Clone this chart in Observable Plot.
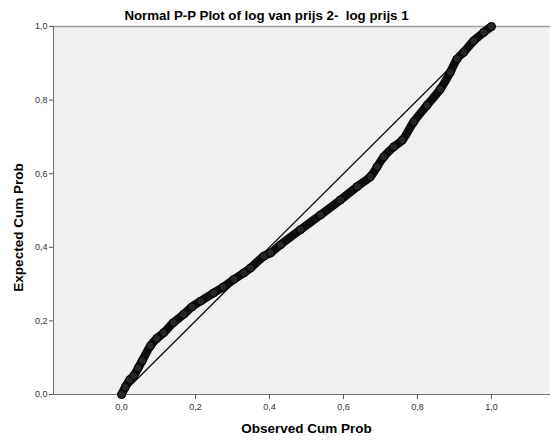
<!DOCTYPE html>
<html>
<head>
<meta charset="utf-8">
<script src="https://cdn.jsdelivr.net/npm/d3@7"></script>
<script src="https://cdn.jsdelivr.net/npm/@observablehq/plot@0.6"></script>
<style>
  html, body { margin: 0; padding: 0; background: #fff; }
  #chart svg { display: block; }
</style>
</head>
<body>
<div id="chart"></div>
<script>
const title = "Normal P-P Plot of log van prijs 2-  log prijs 1";
const xLabel = "Observed Cum Prob";
const yLabel = "Expected Cum Prob";
const tickValues = [0, 0.2, 0.4, 0.6, 0.8, 1.0];

const observed = [0.000, 0.010, 0.022, 0.033, 0.045, 0.056, 0.078, 0.095, 0.114, 0.140,
  0.168, 0.190, 0.214, 0.249, 0.275, 0.304, 0.330, 0.349, 0.385, 0.403,
  0.430, 0.484, 0.538, 0.592, 0.637, 0.673, 0.691, 0.709, 0.736, 0.759,
  0.790, 0.826, 0.862, 0.889, 0.907, 0.925, 0.952, 0.979, 1.000];
const expected = [0.000, 0.020, 0.040, 0.051, 0.072, 0.092, 0.132, 0.152, 0.168, 0.195,
  0.218, 0.238, 0.254, 0.276, 0.292, 0.313, 0.330, 0.344, 0.376, 0.385,
  0.407, 0.448, 0.488, 0.529, 0.565, 0.592, 0.619, 0.646, 0.673, 0.691,
  0.741, 0.786, 0.830, 0.876, 0.912, 0.930, 0.961, 0.984, 1.000];
const refLine = [0, 1];

const pts = observed.map((x, i) => ({x, y: expected[i]}));
const ref = refLine.map(v => ({x: v, y: v}));
const fmt = d => d3.format(".1f")(d).replace(".", ",");

const chart = Plot.plot({
  width: 551,
  height: 440,
  marginLeft: 53,
  marginRight: 2,
  marginTop: 26,
  marginBottom: 46,
  style: {fontFamily: "'Liberation Sans', Arial, sans-serif", background: "#fff"},
  x: {domain: [-0.184, 1.157]},
  y: {domain: [0, 1]},
  marks: [
    Plot.frame({fill: "#f0f0f0", stroke: "none"}),
    Plot.frame({anchor: "top", stroke: "#a0a0a0", strokeWidth: 1.5}),
    Plot.frame({anchor: "left", stroke: "#707070", strokeWidth: 1}),
    Plot.frame({anchor: "bottom", stroke: "#707070", strokeWidth: 1}),
    Plot.axisX({ticks: tickValues, tickFormat: fmt, tickSize: 5, tickPadding: 4, fontSize: 9, color: "#333", stroke: "#555", label: null}),
    Plot.axisY({ticks: tickValues, tickFormat: fmt, tickSize: 4, tickPadding: 2, fontSize: 9, color: "#333", stroke: "#555", label: null}),
    Plot.line(ref, {x: "x", y: "y", stroke: "#111", strokeWidth: 1.3}),
    Plot.line(pts, {x: "x", y: "y", stroke: "#0e0e0e", strokeWidth: 8.5, strokeLinecap: "round", strokeLinejoin: "round", curve: "catmull-rom"}),
    Plot.dot(pts, {x: "x", y: "y", r: 4, stroke: "#000", strokeWidth: 1, fill: "#262626"}),
    Plot.text([title], {frameAnchor: "top", lineAnchor: "middle", dy: -11, dx: -35, fontSize: 13.3, fontWeight: "bold", fill: "#000"}),
    Plot.text([xLabel], {frameAnchor: "bottom", lineAnchor: "middle", textAnchor: "middle", dy: 34, dx: 5, fontSize: 13.5, fontWeight: "bold", fill: "#000"}),
    Plot.text([yLabel], {frameAnchor: "left", textAnchor: "middle", lineAnchor: "middle", dx: -35, dy: 17, rotate: -90, fontSize: 13.5, fontWeight: "bold", fill: "#000"})
  ]
});
document.getElementById("chart").appendChild(chart);
</script>
</body>
</html>
